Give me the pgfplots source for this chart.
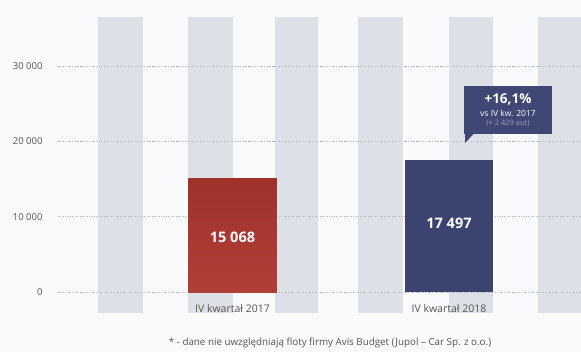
\documentclass[border=0pt]{standalone}
\usepackage{pgfplots}
\pgfplotsset{compat=1.18}
\usepackage{fontspec}
\setmainfont{Open Sans}
\definecolor{bg}{HTML}{F9FAFB}
\definecolor{stripe}{HTML}{DDE0E6}
\definecolor{redtop}{HTML}{A0312B}
\definecolor{redbot}{HTML}{B03F37}
\definecolor{bluebar}{HTML}{3B4470}
\definecolor{callout}{HTML}{3F4775}
\definecolor{gridc}{HTML}{B0B4BC}
\definecolor{txt}{HTML}{555555}
\definecolor{subtxt}{HTML}{9AA0B8}
\begin{document}
\begin{tikzpicture}
\begin{axis}[
  scale only axis, width=581pt, height=352pt,
  xmin=0, xmax=581, ymin=-7968, ymax=38778,
  axis background/.style={fill=bg},
  axis line style={draw=none}, major tick length=0pt,
  scaled y ticks=false,
  ytick={0,10000,20000,30000}, yticklabels={0,10 000,20 000,30 000},
  yticklabel style={anchor=east, xshift=46pt, font=\fontsize{9.5}{10}\selectfont, text=txt},
  xtick=\empty,
  ybar, bar width=88.5, clip=false,
]
% background stripes
\fill[stripe] (axis cs:98,-2789) rectangle (axis cs:143,36520);
\fill[stripe] (axis cs:188,-2789) rectangle (axis cs:233,36520);
\fill[stripe] (axis cs:275,-2789) rectangle (axis cs:318,36520);
\fill[stripe] (axis cs:358,-2789) rectangle (axis cs:403,36520);
\fill[stripe] (axis cs:449,-2789) rectangle (axis cs:493,36520);
\fill[stripe] (axis cs:538,-2789) rectangle (axis cs:581,36520);
% grid
\pgfplotsinvokeforeach{0,10000,20000,30000}{
  \draw[gridc, line width=0.9pt, dash pattern=on 0.8pt off 1.6pt] (axis cs:58,#1) -- (axis cs:581,#1);
}
\addplot[top color=redtop, bottom color=redbot, draw=none, bar shift=0pt] coordinates {(232.5,15068)};
\addplot[fill=bluebar, draw=none, bar shift=0pt] coordinates {(449,17497)};
\node[text=white, font=\fontsize{14.5}{16}\selectfont\bfseries] at (axis cs:232.5,7304) {15 068};
\node[text=white, font=\fontsize{14.5}{16}\selectfont\bfseries] at (axis cs:449,9163) {17 497};
% category labels
\node[text=txt, font=\fontsize{10.5}{12}\selectfont] at (axis cs:232.5,-2150) {IV kwartał 2017};
\node[text=txt, font=\fontsize{10.5}{12}\selectfont] at (axis cs:449,-2150) {IV kwartał 2018};
% callout
\fill[callout] (axis cs:464,20983) rectangle (axis cs:552,27357);
\fill[callout] (axis cs:465,21050) -- (axis cs:474,21050) -- (axis cs:465,19787) -- cycle;
\node[text=white, font=\fontsize{13.5}{15}\selectfont\bfseries] at (axis cs:508,25600) {+16,1\%};
\node[text=white, font=\fontsize{8.5}{9}\selectfont] at (axis cs:508,23750) {vs IV kw. 2017};
\node[text=subtxt, font=\fontsize{7.5}{8}\selectfont] at (axis cs:508,22400) {(+ 2 429 aut)};
% footnote
\node[text=txt, font=\fontsize{9.8}{11}\selectfont] at (axis cs:330,-6773) {* - dane nie uwzględniają floty firmy Avis Budget (Jupol – Car Sp. z o.o.)};
\end{axis}
\pgfresetboundingbox
\useasboundingbox (current axis.south west) rectangle (current axis.north east);
\end{tikzpicture}
\end{document}
